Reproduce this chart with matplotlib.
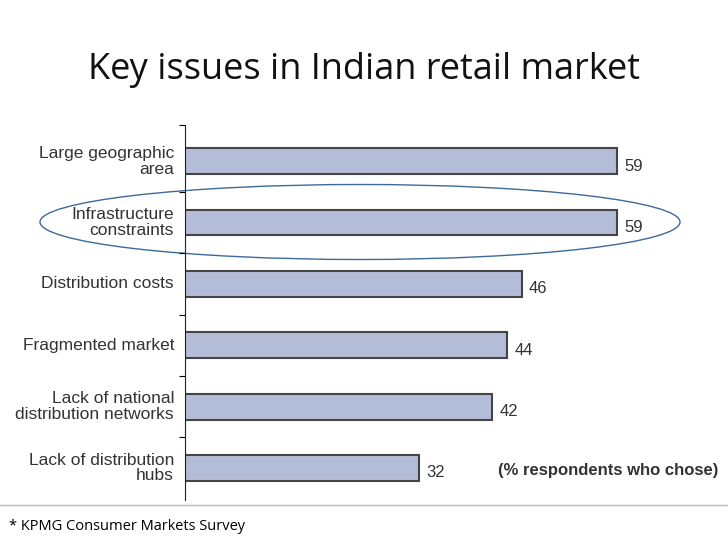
import matplotlib.pyplot as plt
from matplotlib.patches import Ellipse

labels = ["Large geographic\narea", "Infrastructure\nconstraints", "Distribution costs",
          "Fragmented market", "Lack of national\ndistribution networks", "Lack of distribution\nhubs"]
values = [59, 59, 46, 44, 42, 32]

fig = plt.figure(figsize=(7.28, 5.46), dpi=100)
fig.text(0.5, 1-70/546, "Key issues in Indian retail market", ha="center", va="center",
         fontsize=26, family="Open Sans", color="#111111")

ax = fig.add_axes([185/728, 1-500/546, 543/728, 375/546])
pos = list(range(len(values)))
ax.barh(pos, values, height=0.42, color="#b4bdd8", edgecolor="#444444", linewidth=1.5)
for p, v in zip(pos, values):
    ax.text(v + 1, p + 0.08, str(v), va="center", fontsize=12, color="#333333",
            family="Liberation Sans")
ax.set_xlim(0, 74.2)
ax.set_ylim(5.52, -0.59)
for s in ["top", "right", "bottom"]:
    ax.spines[s].set_visible(False)
ax.spines["left"].set_color("#222222")
ax.set_xticks([])
ax.set_yticks([p + 0.5 for p in pos[:-1]] + [-0.59])
ax.set_yticklabels([])
ax.tick_params(axis="y", length=4, direction="out")
for p, l in zip(pos, labels):
    ax.text(-1.5, p, l, ha="right", va="center", fontsize=12.5, color="#333333",
            family="Liberation Sans", linespacing=1.05)
fig.text(718/728, 1-471/546, "(% respondents who chose)", ha="right", va="center",
         fontsize=12, fontweight="bold", color="#333333", family="Liberation Sans")
ax.add_patch(Ellipse((360/728, 1-222/546), 640/728, 75/546, transform=fig.transFigure,
                     fill=False, edgecolor="#3d6a9a", linewidth=1, clip_on=False))
fig.add_artist(plt.Line2D([0, 1], [1-505/546]*2, color="#bbbbbb", linewidth=1))
fig.text(0.012, 1-527/546, "* KPMG Consumer Markets Survey", fontsize=10.5,
         family="Open Sans", va="center")
fig.savefig("out.png")
